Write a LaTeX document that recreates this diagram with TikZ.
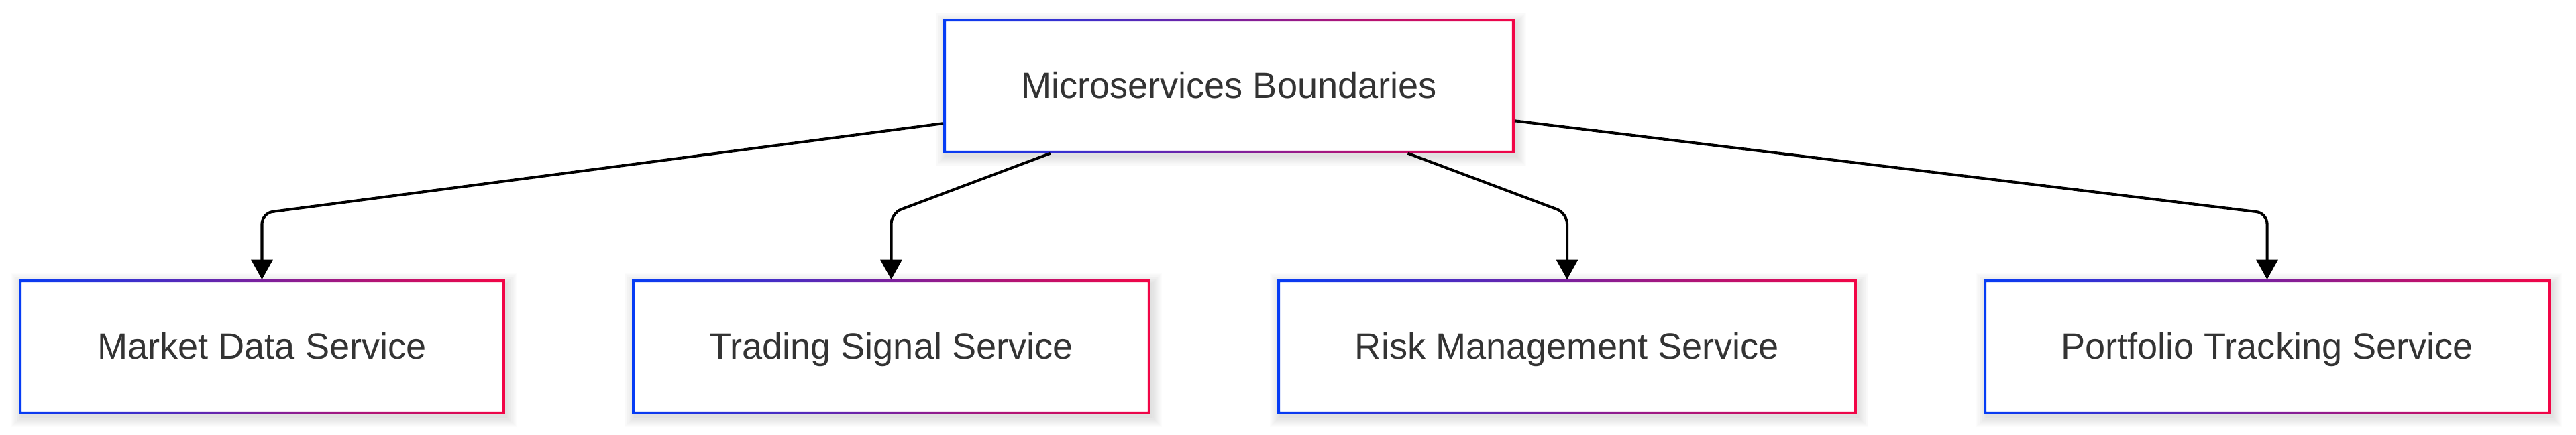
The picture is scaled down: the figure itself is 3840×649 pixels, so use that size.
\documentclass[tikz,border=0pt]{standalone}
\usepackage{fontspec}
\setmainfont{Liberation Sans}
\usetikzlibrary{arrows.meta,calc}
\pgfdeclarelayer{bgpaper}
\pgfdeclarelayer{background}
\pgfsetlayers{bgpaper,background,main}
\definecolor{gblue}{RGB}{5,60,245}
\definecolor{gred}{RGB}{242,5,70}
\definecolor{txt}{RGB}{51,51,51}
\tikzset{
  svc/.style={rectangle, inner sep=0pt, minimum height=1.99cm, text=txt,
    text height=11.5pt, text depth=1.5pt,
    font=\fontsize{15.4}{18}\selectfont},
  edge/.style={draw=black, line width=1.15pt, rounded corners=0.16cm,
    -{Triangle[length=8.4pt,width=9pt]}},
}
\newcommand\gframe[1]{%
  \foreach \k in {0,...,9}{
    \fill[black, opacity=0.012]
      ($(#1.south west)+(3-1.6*\k,5+1.6*\k)$) rectangle ($(#1.north east)+(3+1.6*\k,5-1.6*\k)$);
  }
  \fill[white] (#1.south west) rectangle (#1.north east);
  \shade[left color=gblue, right color=gred, even odd rule]
    (#1.south west) rectangle (#1.north east)
    ($(#1.south west)+(4,-4)$) rectangle ($(#1.north east)+(-4,4)$);
}
\begin{document}
\begin{tikzpicture}[x=0.01cm, y=-0.01cm]
\begin{pgfonlayer}{bgpaper}
\useasboundingbox[fill=white] (0,0) rectangle (3840,649);
\end{pgfonlayer}
\node[svc, minimum width=8.50cm] (top) at (1832,128.5) {Microservices Boundaries};
\node[svc, minimum width=7.23cm] (A) at (390.5,517.5) {Market Data Service};
\node[svc, minimum width=7.71cm] (B) at (1328.5,517.5) {Trading Signal Service};
\node[svc, minimum width=8.62cm] (C) at (2336,517.5) {Risk Management Service};
\node[svc, minimum width=8.43cm] (D) at (3379.5,517.5) {Portfolio Tracking Service};
\begin{pgfonlayer}{background}
  \gframe{top}\gframe{A}\gframe{B}\gframe{C}\gframe{D}
\end{pgfonlayer}
\coordinate (cA) at (A.north |- 0,318);
\coordinate (cB) at (B.north |- 0,318);
\coordinate (cC) at (C.north |- 0,318);
\coordinate (cD) at (D.north |- 0,318);
\draw[edge] (top) -- (cA) -- (A);
\draw[edge] (top) -- (cB) -- (B);
\draw[edge] (top) -- (cC) -- (C);
\draw[edge] (top) -- (cD) -- (D);
\end{tikzpicture}
\end{document}
